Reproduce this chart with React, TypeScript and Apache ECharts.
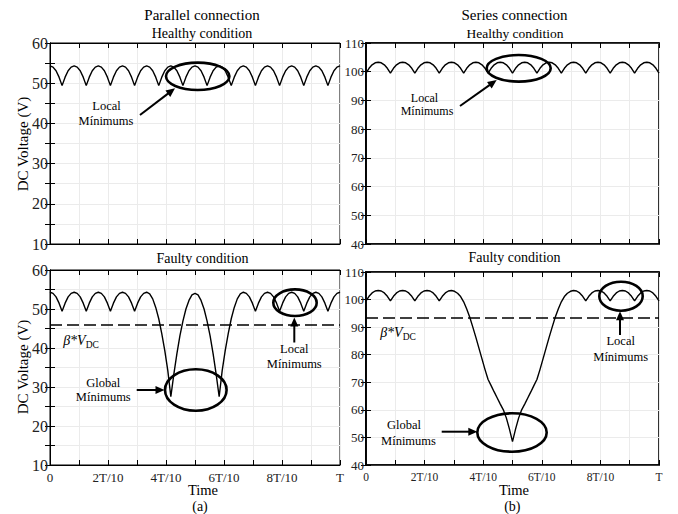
import React, { useEffect, useRef } from 'react';
import * as echarts from 'echarts';

const FONT = 'Liberation Serif';

// samples per period T (time step = T/96)
const STEPS = 96;
const xTickLabels = ['0', '', '2T/10', '', '4T/10', '', '6T/10', '', '8T/10', '', 'T'];

// Parallel connection, healthy (V)
const parallelHealthy = [
  54.3, 54.0, 53.1, 51.5, 49.4, 51.5, 53.1, 54.0,
  54.3, 54.0, 53.1, 51.5, 49.4, 51.5, 53.1, 54.0,
  54.3, 54.0, 53.1, 51.5, 49.4, 51.5, 53.1, 54.0,
  54.3, 54.0, 53.1, 51.5, 49.4, 51.5, 53.1, 54.0,
  54.3, 54.0, 53.1, 51.5, 49.4, 51.5, 53.1, 54.0,
  54.3, 54.0, 53.1, 51.5, 49.4, 51.5, 53.1, 54.0,
  54.3, 54.0, 53.1, 51.5, 49.4, 51.5, 53.1, 54.0,
  54.3, 54.0, 53.1, 51.5, 49.4, 51.5, 53.1, 54.0,
  54.3, 54.0, 53.1, 51.5, 49.4, 51.5, 53.1, 54.0,
  54.3, 54.0, 53.1, 51.5, 49.4, 51.5, 53.1, 54.0,
  54.3, 54.0, 53.1, 51.5, 49.4, 51.5, 53.1, 54.0,
  54.3, 54.0, 53.1, 51.5, 49.4, 51.5, 53.1, 54.0,
  54.3,
];

// Series connection, healthy (V)
const seriesHealthy = [
  99.5, 101.2, 102.4, 103.1, 103.3, 103.1, 102.4, 101.2,
  99.5, 101.2, 102.4, 103.1, 103.3, 103.1, 102.4, 101.2,
  99.5, 101.2, 102.4, 103.1, 103.3, 103.1, 102.4, 101.2,
  99.5, 101.2, 102.4, 103.1, 103.3, 103.1, 102.4, 101.2,
  99.5, 101.2, 102.4, 103.1, 103.3, 103.1, 102.4, 101.2,
  99.5, 101.2, 102.4, 103.1, 103.3, 103.1, 102.4, 101.2,
  99.5, 101.2, 102.4, 103.1, 103.3, 103.1, 102.4, 101.2,
  99.5, 101.2, 102.4, 103.1, 103.3, 103.1, 102.4, 101.2,
  99.5, 101.2, 102.4, 103.1, 103.3, 103.1, 102.4, 101.2,
  99.5, 101.2, 102.4, 103.1, 103.3, 103.1, 102.4, 101.2,
  99.5, 101.2, 102.4, 103.1, 103.3, 103.1, 102.4, 101.2,
  99.5, 101.2, 102.4, 103.1, 103.3, 103.1, 102.4, 101.2,
  99.5,
];

// Parallel connection, faulty (V)
const parallelFaulty = [
  54.3, 54.0, 53.1, 51.5, 49.4, 51.5, 53.1, 54.0,
  54.3, 54.0, 53.1, 51.5, 49.4, 51.5, 53.1, 54.0,
  54.3, 54.0, 53.1, 51.5, 49.4, 51.5, 53.1, 54.0,
  54.3, 54.0, 53.1, 51.5, 49.4, 51.5, 53.1, 54.0,
  54.3, 53.9, 52.6, 50.4, 47.5, 43.7, 39.3, 34.2,
  27.5, 33.3, 38.5, 43.1, 46.9, 50.0, 52.2, 53.6,
  54.0, 53.6, 52.2, 50.0, 46.9, 43.1, 38.5, 33.3,
  27.5, 34.2, 39.3, 43.7, 47.5, 50.4, 52.6, 53.9,
  54.3, 54.0, 53.1, 51.5, 49.4, 51.5, 53.1, 54.0,
  54.3, 54.0, 53.1, 51.5, 49.4, 51.5, 53.1, 54.0,
  54.3, 54.0, 53.1, 51.5, 49.4, 51.5, 53.1, 54.0,
  54.3, 54.0, 53.1, 51.5, 49.4, 51.5, 53.1, 54.0,
  54.3,
];

// Series connection, faulty (V)
const seriesFaulty = [
  99.5, 101.2, 102.4, 103.1, 103.3, 103.1, 102.4, 101.2,
  99.5, 101.2, 102.4, 103.1, 103.3, 103.1, 102.4, 101.2,
  99.5, 101.2, 102.4, 103.1, 103.3, 103.1, 102.4, 101.2,
  99.5, 101.2, 102.4, 103.1, 103.3, 103.0, 102.3, 101.1,
  99.2, 96.6, 93.6, 90.0, 86.3, 82.4, 78.5, 74.6,
  71.0, 68.8, 66.5, 64.3, 62.1, 60.0, 57.0, 53.0,
  48.5, 53.0, 57.0, 60.0, 62.1, 64.3, 66.5, 68.8,
  71.0, 74.6, 78.5, 82.4, 86.3, 90.0, 93.6, 96.6,
  99.2, 101.1, 102.3, 103.0, 103.3, 103.1, 102.4, 101.2,
  99.5, 101.2, 102.4, 103.1, 103.3, 103.1, 102.4, 101.2,
  99.5, 101.2, 102.4, 103.1, 103.3, 103.1, 102.4, 101.2,
  99.5, 101.2, 102.4, 103.1, 103.3, 103.1, 102.4, 101.2,
  99.5,
];

// beta * V_DC thresholds
const betaParallel = 46;
const betaSeries = 93.3;

type Panel = {
  grid: { left: number; top: number; width: number; height: number };
  ymin: number; ymax: number; yint: number;
  values: number[];
  xLabels: boolean;
  yFont: number; xFont: number;
  beta: number | null;
  frame: number;
};

const panels: Panel[] = [
  { grid: { left: 50, top: 43, width: 290, height: 201 }, ymin: 10, ymax: 60, yint: 5, values: parallelHealthy, xLabels: false, yFont: 16, xFont: 13, beta: null, frame: 1 },
  { grid: { left: 366, top: 43, width: 293, height: 201 }, ymin: 40, ymax: 110, yint: 10, values: seriesHealthy, xLabels: false, yFont: 13, xFont: 11.5, beta: null, frame: 1.6 },
  { grid: { left: 50, top: 270, width: 290, height: 195 }, ymin: 10, ymax: 60, yint: 5, values: parallelFaulty, xLabels: true, yFont: 16, xFont: 13, beta: betaParallel, frame: 1 },
  { grid: { left: 366, top: 272, width: 293, height: 193 }, ymin: 40, ymax: 110, yint: 10, values: seriesFaulty, xLabels: true, yFont: 13, xFont: 11.5, beta: betaSeries, frame: 1.6 },
];

function txt(text: string, x: number, y: number, size: number, extra: any = {}) {
  return {
    type: 'text', x, y, z: 100, ...extra,
    style: {
      text, fontFamily: FONT, fontSize: size, fill: '#000',
      align: 'center', verticalAlign: 'middle',
    },
  };
}

function arrow(x1: number, y1: number, x2: number, y2: number) {
  const dx = x2 - x1, dy = y2 - y1;
  const len = Math.hypot(dx, dy);
  const ux = dx / len, uy = dy / len;
  const hl = 9, hw = 4;
  const bx = x2 - ux * hl, by = y2 - uy * hl;
  return [
    { type: 'line', z: 100, shape: { x1, y1, x2: bx + ux, y2: by + uy }, style: { stroke: '#000', lineWidth: 2 } },
    { type: 'polygon', z: 100, shape: { points: [[x2, y2], [bx - uy * hw, by + ux * hw], [bx + uy * hw, by - ux * hw]] }, style: { fill: '#000' } },
  ];
}

function ellipse(cx: number, cy: number, rx: number, ry: number) {
  return { type: 'ellipse', z: 100, shape: { cx, cy, rx, ry }, style: { fill: 'none', stroke: '#000', lineWidth: 2.6 } };
}

function betaLabel(x: number, y: number) {
  return {
    type: 'text', x, y, z: 100,
    style: {
      text: '{b|β*}{v|V}{s|DC}',
      align: 'center', verticalAlign: 'middle',
      rich: {
        b: { fontFamily: FONT, fontStyle: 'italic', fontSize: 14, fill: '#000', lineHeight: 16, verticalAlign: 'bottom' },
        v: { fontFamily: FONT, fontStyle: 'italic', fontSize: 14, fill: '#000', lineHeight: 16, verticalAlign: 'bottom' },
        s: { fontFamily: FONT, fontSize: 9.5, fill: '#000', lineHeight: 10, verticalAlign: 'bottom', padding: [0, 0, -3, 0] },
      },
    },
  };
}

export default function App() {
  const ref = useRef<HTMLDivElement>(null);
  useEffect(() => {
    if (!ref.current) return;
    const chart = echarts.init(ref.current, null, { renderer: 'svg' });

    const grid: any[] = [];
    const xAxis: any[] = [];
    const yAxis: any[] = [];
    const series: any[] = [];

    panels.forEach((p, g) => {
      grid.push({ ...p.grid, show: true, borderColor: '#000', borderWidth: p.frame, containLabel: false });
      const lineStyle = { color: '#000', width: p.frame };
      xAxis.push({
        type: 'value', gridIndex: g, min: 0, max: 1, interval: 0.1, position: 'bottom',
        axisLine: { show: true, lineStyle },
        axisTick: { show: true, inside: true, length: 5, lineStyle: { color: '#000', width: 1 } },
        axisLabel: {
          show: p.xLabels, margin: 6, fontFamily: FONT, fontSize: p.xFont, color: '#222',
          formatter: (v: number) => xTickLabels[Math.round(v * 10)] ?? '',
        },
        splitLine: { show: true, lineStyle: { color: '#ebebeb', width: 1 } },
      });
      xAxis.push({
        type: 'value', gridIndex: g, min: 0, max: 1, interval: 0.1, position: 'top',
        axisLine: { show: true, lineStyle },
        axisTick: { show: true, inside: true, length: 5, lineStyle: { color: '#000', width: 1 } },
        axisLabel: { show: false },
        splitLine: { show: false },
      });
      yAxis.push({
        type: 'value', gridIndex: g, min: p.ymin, max: p.ymax, interval: p.yint, position: 'left',
        axisLine: { show: true, lineStyle },
        axisTick: { show: true, inside: true, length: 5, lineStyle: { color: '#000', width: 1 } },
        axisLabel: {
          show: true, margin: 2, fontFamily: FONT, fontSize: p.yFont, color: '#222',
          formatter: (v: number) => (v % 10 === 0 ? String(v) : ''),
        },
        splitLine: { show: true, lineStyle: { color: '#ebebeb', width: 1 } },
      });
      yAxis.push({
        type: 'value', gridIndex: g, min: p.ymin, max: p.ymax, interval: p.yint, position: 'right',
        axisLine: { show: true, lineStyle },
        axisTick: { show: true, inside: true, length: 5, lineStyle: { color: '#000', width: 1 } },
        axisLabel: { show: false },
        splitLine: { show: false },
      });
      const s: any = {
        type: 'line', xAxisIndex: 2 * g, yAxisIndex: 2 * g, symbol: 'none', silent: true,
        lineStyle: { color: '#000', width: 1.4 },
        data: p.values.map((v, i) => [i / STEPS, v]),
        z: 5,
      };
      if (p.beta !== null) {
        s.markLine = {
          silent: true, symbol: 'none', label: { show: false },
          lineStyle: { color: '#000', width: 1.6, type: [12, 5] },
          data: [{ yAxis: p.beta }],
        };
      }
      series.push(s);
    });

    const graphic: any[] = [
      txt('Parallel connection', 202, 15, 15),
      txt('Healthy condition', 202, 33, 14),
      txt('Series connection', 514.5, 15, 15),
      txt('Healthy condition', 515, 33, 13.5),
      txt('Faulty condition', 202.5, 258.3, 14),
      txt('Faulty condition', 514.5, 257.3, 14),
      txt('Time', 203, 490, 14.5),
      txt('Time', 514, 490, 14.5),
      txt('(a)', 200, 506, 14),
      txt('(b)', 512.3, 506, 14),
      txt('DC Voltage (V)', 22.7, 144, 15, { rotation: Math.PI / 2 }),
      txt('DC Voltage (V)', 22.7, 367, 15, { rotation: Math.PI / 2 }),

      // top-left annotation
      ellipse(197.7, 76.3, 31.7, 13.7),
      ...arrow(140, 115, 175, 88.3),
      txt('Local', 106.5, 106, 12.5),
      txt('Mínimums', 106, 120.7, 12.5),

      // top-right annotation
      ellipse(518.7, 68.3, 32, 13.3),
      ...arrow(460, 106, 496.7, 80),
      txt('Local', 424.5, 97.5, 12),
      txt('Mínimums', 427, 110.5, 12),

      // bottom-left annotations
      betaLabel(81, 339.3),
      ellipse(295, 302.7, 21.7, 13.3),
      ...arrow(294.3, 342.5, 294.3, 317.5),
      txt('Local', 294.3, 349, 12.5),
      txt('Mínimums', 294.3, 363.5, 12.5),
      ellipse(195.8, 390, 30.8, 20.7),
      ...arrow(136.7, 390, 164.5, 390),
      txt('Global', 103.3, 383, 12.5),
      txt('Mínimums', 103.3, 397.3, 12.5),

      // bottom-right annotations
      betaLabel(398, 331),
      ellipse(621, 296.2, 21.7, 14.5),
      ...arrow(620, 335, 620, 311.3),
      txt('Local', 620.7, 340.7, 12.5),
      txt('Mínimums', 620.7, 356.7, 12.5),
      ellipse(512, 432.5, 34.7, 19.2),
      ...arrow(441.7, 431.7, 477.3, 431.7),
      txt('Global', 404, 425, 12.5),
      txt('Mínimums', 408.5, 440.7, 12.5),
    ];

    chart.setOption({
      animation: false,
      backgroundColor: '#fff',
      grid, xAxis, yAxis, series, graphic,
    });
    return () => chart.dispose();
  }, []);

  return (
    <div
      ref={ref}
      style={{ position: 'fixed', left: 0, top: 0, width: 678, height: 514, background: '#fff' }}
    />
  );
}
